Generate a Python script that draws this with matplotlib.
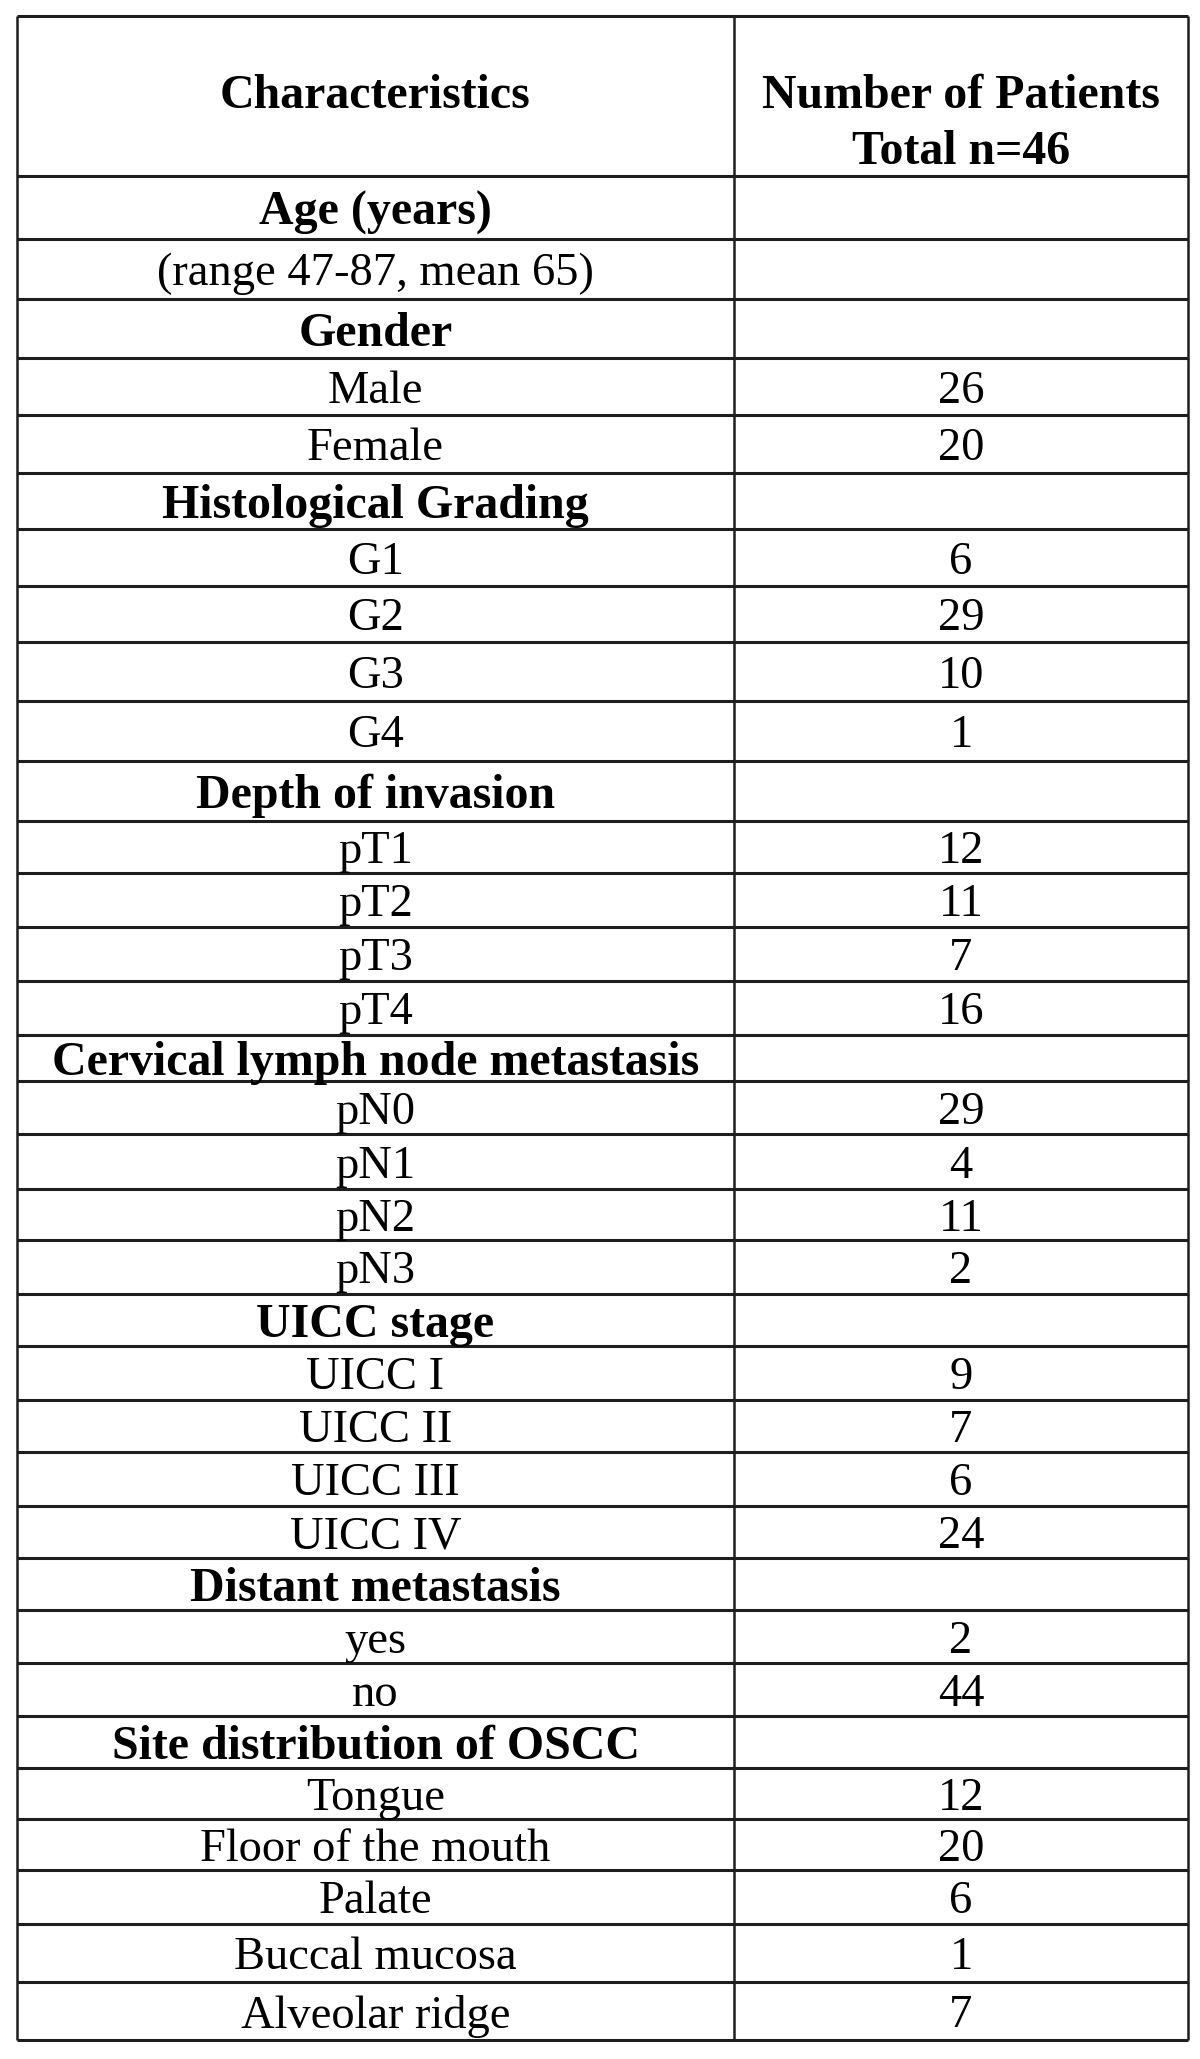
from matplotlib import pyplot as plt

# table content
header_left = "Characteristics"
header_right = ["Number of Patients", "Total n=46"]

labels = [
    "Age (years)", "(range 47-87, mean 65)",
    "Gender", "Male", "Female",
    "Histological Grading", "G1", "G2", "G3", "G4",
    "Depth of invasion", "pT1", "pT2", "pT3", "pT4",
    "Cervical lymph node metastasis", "pN0", "pN1", "pN2", "pN3",
    "UICC stage", "UICC I", "UICC II", "UICC III", "UICC IV",
    "Distant metastasis", "yes", "no",
    "Site distribution of OSCC", "Tongue", "Floor of the mouth", "Palate",
    "Buccal mucosa", "Alveolar ridge",
]
counts = [
    "", "",
    "", "26", "20",
    "", "6", "29", "10", "1",
    "", "12", "11", "7", "16",
    "", "29", "4", "11", "2",
    "", "9", "7", "6", "24",
    "", "2", "44",
    "", "12", "20", "6", "1", "7",
]
is_heading = [
    True, False,
    True, False, False,
    True, False, False, False, False,
    True, False, False, False, False,
    True, False, False, False, False,
    True, False, False, False, False,
    True, False, False,
    True, False, False, False, False, False,
]

# layout (pixels in a 1200 x 2059 canvas)
row_edges = [16, 176, 239, 299, 358, 415, 473, 529, 586, 642, 701, 761, 821,
             873, 927, 981, 1035, 1081, 1134, 1189, 1240, 1294, 1346, 1400,
             1452, 1506, 1558, 1610, 1663, 1716, 1768, 1819, 1870, 1924,
             1982, 2040]
x_left, x_mid, x_right = 17, 734, 1188
font = "Liberation Serif"
size = 33.5
bold_size = 34.5
line_color = "#1e1e1e"

fig = plt.figure(figsize=(12, 20.59), dpi=100)
ax = fig.add_axes([0, 0, 1, 1])
ax.set_xlim(0, 1200)
ax.set_ylim(2059, 0)
ax.axis("off")

ax.hlines(row_edges, x_left, x_right, color=line_color, lw=2.2)
ax.vlines([x_left, x_mid, x_right], row_edges[0], row_edges[-1],
          color=line_color, lw=1.8)

cx_left = (x_left + x_mid) / 2
cx_right = (x_mid + x_right) / 2

# header
ax.text(cx_left, 96, header_left, ha="center", va="center",
        family=font, fontsize=bold_size, fontweight="bold")
ax.text(cx_right, 96, header_right[0], ha="center", va="center",
        family=font, fontsize=bold_size, fontweight="bold")
ax.text(cx_right, 152, header_right[1], ha="center", va="center",
        family=font, fontsize=bold_size, fontweight="bold")

for i, (lab, cnt, bold) in enumerate(zip(labels, counts, is_heading)):
    y = (row_edges[i + 1] + row_edges[i + 2]) / 2
    if bold:
        ax.text(cx_left, y, lab, ha="center", va="center_baseline",
                family=font, fontsize=bold_size, fontweight="bold")
    else:
        ax.text(cx_left, y, lab, ha="center", va="center_baseline",
                family=font, fontsize=size)
    if cnt:
        ax.text(cx_right, y, cnt, ha="center", va="center_baseline",
                family=font, fontsize=size)

fig.savefig("out.png", dpi=100, facecolor="white")
plt.close()
